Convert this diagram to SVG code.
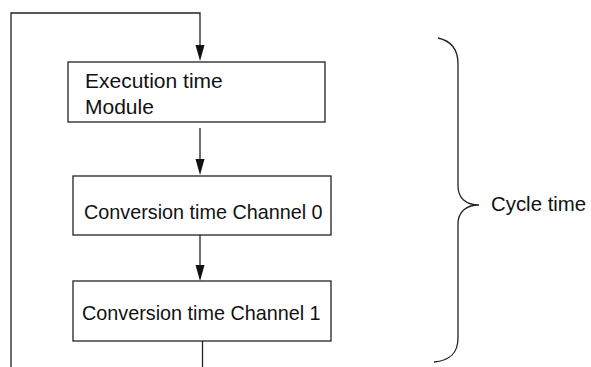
<svg xmlns="http://www.w3.org/2000/svg" width="591" height="367" viewBox="0 0 591 367">
<defs>
<style>
.box{fill:#fff;stroke:#222;stroke-width:1.3}
.ln{fill:none;stroke:#222;stroke-width:1.3}
.t{font-family:"Liberation Sans",Arial,sans-serif;font-size:19.8px;fill:#111}
.big{font-size:21px}
.ah{fill:#111}
</style>
</defs>
<rect width="591" height="367" fill="#fff"/>
<g id="connectors">
<polyline class="ln" points="11,367 11,13 200,13 200,46"/>
<polygon class="ah" points="195.5,45 204.5,45 200,61"/>
<line class="ln" x1="200" y1="128" x2="200" y2="160"/>
<polygon class="ah" points="195.5,159 204.5,159 200,175"/>
<line class="ln" x1="200" y1="235" x2="200" y2="266"/>
<polygon class="ah" points="195.5,265 204.5,265 200,281"/>
<line class="ln" x1="202.5" y1="341" x2="202.5" y2="367"/>
</g>
<g id="node-execution">
<rect class="box" x="68" y="62" width="257" height="60"/>
<text class="t big" x="85" y="88">Execution time</text>
<text class="t big" x="85" y="114">Module</text>
</g>
<g id="node-channel0">
<rect class="box" x="73" y="176" width="258" height="59"/>
<text class="t" x="84" y="219">Conversion time Channel 0</text>
</g>
<g id="node-channel1">
<rect class="box" x="73" y="281" width="258" height="60"/>
<text class="t" x="82" y="320">Conversion time Channel 1</text>
</g>
<g id="brace">
<path class="ln" d="M438,38 C452,41 458,50 458,64 L458,186 C458,198 466,205 479,205 C466,205 458,212 458,224 L458,338 C458,352 450,361 434,362"/>
<text class="t" x="491" y="211" style="font-size:20.4px">Cycle time</text>
</g>
</svg>
